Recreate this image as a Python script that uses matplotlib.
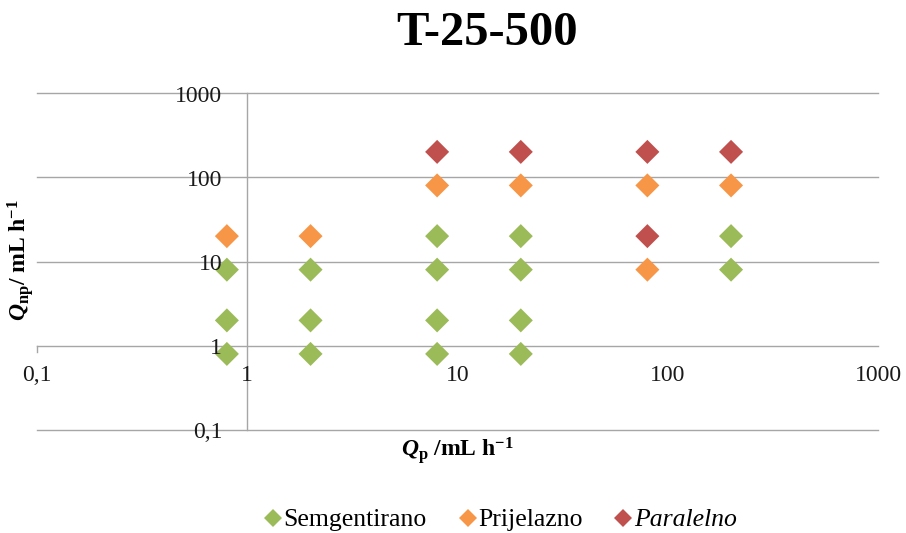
import matplotlib
matplotlib.use("Agg")
import matplotlib.pyplot as plt
from matplotlib.lines import Line2D

plt.rcParams['font.family'] = ['Liberation Serif', 'DejaVu Serif']
plt.rcParams['mathtext.fontset'] = 'custom'
plt.rcParams['mathtext.rm'] = 'Liberation Serif'
plt.rcParams['mathtext.it'] = 'Liberation Serif:italic'
plt.rcParams['mathtext.bf'] = 'Liberation Serif:bold'
plt.rcParams['mathtext.bfit'] = 'Liberation Serif:bold:italic'

title = "T-25-500"
x_ticks = [0.1, 1, 10, 100, 1000]
x_tick_labels = ["0,1", "1", "10", "100", "1000"]
y_ticks = [0.1, 1, 10, 100, 1000]
y_tick_labels = ["0,1", "1", "10", "100", "1000"]

seg_x = [0.8, 0.8, 0.8, 2, 2, 2, 8, 8, 8, 8, 20, 20, 20, 20, 200, 200]
seg_y = [8, 2, 0.8, 8, 2, 0.8, 20, 8, 2, 0.8, 20, 8, 2, 0.8, 20, 8]
pri_x = [0.8, 2, 8, 20, 80, 80, 200]
pri_y = [20, 20, 80, 80, 80, 8, 80]
par_x = [8, 20, 80, 80, 200]
par_y = [200, 200, 200, 20, 200]

series = [
    ("Semgentirano", seg_x, seg_y, "#9BBB59", "normal"),
    ("Prijelazno", pri_x, pri_y, "#F79646", "normal"),
    ("Paralelno", par_x, par_y, "#C0504D", "italic"),
]

fig = plt.figure(figsize=(9.06, 5.33), dpi=100)
ax = fig.add_axes([37/906, 1-430/533, (878-37)/906, (430-93)/533])
ax.set_xscale('log')
ax.set_yscale('log')
ax.set_xlim(0.1, 1000)
ax.set_ylim(0.1, 1000)
for s in ax.spines.values():
    s.set_visible(False)
ax.set_xticks([])
ax.set_yticks([])
ax.minorticks_off()

grid_c = "#A6A6A6"
for yv in y_ticks:
    ax.axhline(yv, color=grid_c, lw=1.0, zorder=1, clip_on=False)
ax.axvline(1, color=grid_c, lw=1.0, zorder=1, clip_on=False)
# small tick at left end of horizontal axis
ax.plot([0.1, 0.1], [1, 0.85], color=grid_c, lw=1.0, zorder=1, clip_on=False)

for name, xs, ys, c, st in series:
    ax.scatter(xs, ys, marker='D', s=150, color=c, edgecolors='none', zorder=3, clip_on=False)

for v, lab in zip(y_ticks, y_tick_labels):
    ax.annotate(lab, xy=(1, v), xytext=(-25, -3), textcoords='offset pixels',
                ha='right', va='center', fontsize=17, color='#1a1a1a')
for v, lab in zip(x_ticks, x_tick_labels):
    ax.annotate(lab, xy=(v, 1), xytext=(0, -30), textcoords='offset pixels',
                ha='center', va='center', fontsize=17, color='#1a1a1a')

fig.text(487/906, 1-33/533, title, ha='center', va='center', fontsize=35, fontweight='bold')
fig.text(457/906, 1-450/533, r"$\boldsymbol{Q}_{\mathbf{p}}$" + r"$\mathbf{\ /mL\ h^{-1}}$",
         ha='center', va='center', fontsize=17)
fig.text(20/906, 1-260/533, r"$\boldsymbol{Q}_{\mathbf{np}}$" + r"$\mathbf{/\ mL\ h^{-1}}$",
         ha='center', va='center', fontsize=17, rotation=90)

handles = [Line2D([], [], marker='D', ls='none', color=c, markersize=9, markeredgewidth=0)
           for _, _, _, c, _ in series]
labels = [n for n, *_ in series]
leg = fig.legend(handles, labels, loc='center', bbox_to_anchor=(497/906, 1-520/533), ncol=3,
                 frameon=False, fontsize=18.5, handletextpad=-0.2, columnspacing=1.0, handlelength=1.2)
for t, (_, _, _, _, st) in zip(leg.get_texts(), series):
    t.set_fontstyle(st)

fig.savefig("out.png", dpi=100)
